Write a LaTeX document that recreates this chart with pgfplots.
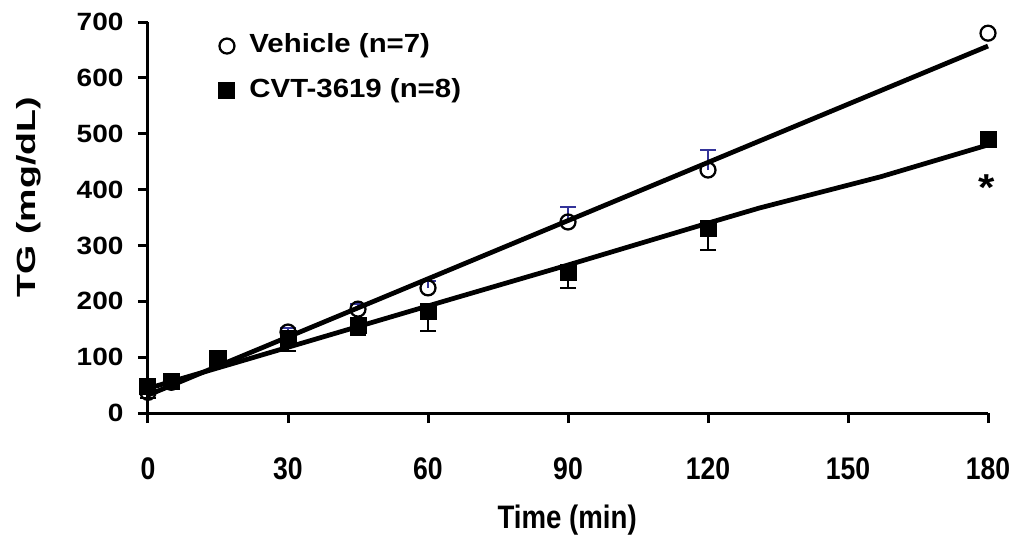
\documentclass[border=0pt]{standalone}
\usepackage{fontspec}
\setmainfont{Liberation Sans}[FakeStretch=1.12]
\newfontfamily\narrowfont{Liberation Sans}[FakeStretch=0.85]
\newfontfamily\widefont{Liberation Sans}[FakeStretch=1.43]
\usepackage{pgfplots}
\pgfplotsset{compat=1.18}
\definecolor{errblue}{RGB}{51,51,153}
\pgfplotsset{mylegimg/.style={legend image code/.code={\draw[##1] plot coordinates {(0pt,0pt)};}}}
\begin{document}
\begin{tikzpicture}
\begin{axis}[
  scale only axis, width=336pt, height=156.4pt,
  xmin=0, xmax=180, ymin=0, ymax=700,
  axis lines=left, axis line style={-, line width=1.2pt},
  xtick={0,30,...,180}, ytick={0,100,...,700},
  tick align=outside, major tick length=4pt,
  every tick/.style={black, line width=1.2pt},
  /pgf/number format/assume math mode=true,
  yticklabel style={font=\fontsize{10}{12}\selectfont\bfseries, anchor=east, xshift=-2.3pt},
  xticklabel style={font=\narrowfont\fontsize{12.5}{14}\selectfont\bfseries, anchor=center, yshift=-18.4pt},
  xlabel={Time (min)}, ylabel={TG (mg/dL)},
  xlabel style={font=\narrowfont\fontsize{13}{15}\selectfont\bfseries, at={(axis description cs:0.499,-0.274)}, anchor=center},
  ylabel style={font=\widefont\fontsize{10.5}{12}\selectfont\bfseries, at={(axis description cs:-0.1417,0.552)}, anchor=center},
  clip=false,
  legend style={draw=none, fill=none, at={(axis description cs:0.0845,0.975)}, anchor=north west,
    font=\fontsize{10.5}{12}\selectfont\bfseries, row sep=6.5pt, column sep=4.8pt, inner sep=0pt, outer sep=0pt,
    nodes={inner sep=1pt, text height=7.4pt, text depth=2.0pt}},
  legend cell align=left,
]
% Vehicle data with upward error bars
\addplot[only marks, mark=o, mark size=3pt, mark options={line width=0.9pt, black},
  error bars/.cd, y dir=plus, y explicit,
  error bar style={line width=0.8pt, errblue},
  error mark options={rotate=90, mark size=3.2pt, line width=0.8pt, errblue}]
  table[x=t, y=v, y error=e] {
t   v    e
0   37   5
5   55   5
15  95   10
30  145  7
45  186  9
60  224  12
90  342  27
120 435  36
};
\addplot[only marks, mark=o, mark size=3pt, mark options={line width=0.9pt, black}, forget plot]
  table[x=t, y=v] {
t   v
180 680
};
% CVT-3619 data with downward error bars
\addplot[only marks, mark=square*, mark size=3.2pt, black,
  error bars/.cd, y dir=minus, y explicit,
  error bar style={line width=0.8pt, black},
  error mark options={rotate=90, mark size=3.2pt, line width=0.8pt, black}]
  table[x=t, y=v, y error=e] {
t   v    e
0   47   20
5   56   5
15  97   5
30  134  23
45  157  17
60  181  34
90  252  28
120 331  39
};
\addplot[only marks, mark=square*, mark size=3.2pt, black, forget plot]
  table[x=t, y=v] {
t   v
180 490
};
% trend lines
\addplot[black, line width=1.9pt, no marks] coordinates {(0,32) (180,657)};
\addplot[black, line width=1.9pt, no marks] coordinates {(0,44) (22,98) (65,204) (90,265) (120,340) (131,367) (157,423) (180,480)};
\addlegendimage{only marks, mark=o, mark size=2.4pt, mark options={line width=0.8pt, black}, mylegimg}
\addlegendentry{Vehicle (n=7)}
\addlegendimage{only marks, mark=square*, mark size=2.4pt, black, mylegimg}
\addlegendentry{CVT-3619 (n=8)}
\node[anchor=base, inner sep=0pt] at (axis cs:179.8,380) {\fontsize{15}{15}\selectfont\bfseries *};
\end{axis}
\pgfresetboundingbox
\useasboundingbox (-59.2pt,-55.6pt) rectangle (346.8pt,165.2pt);
\end{tikzpicture}
\end{document}
